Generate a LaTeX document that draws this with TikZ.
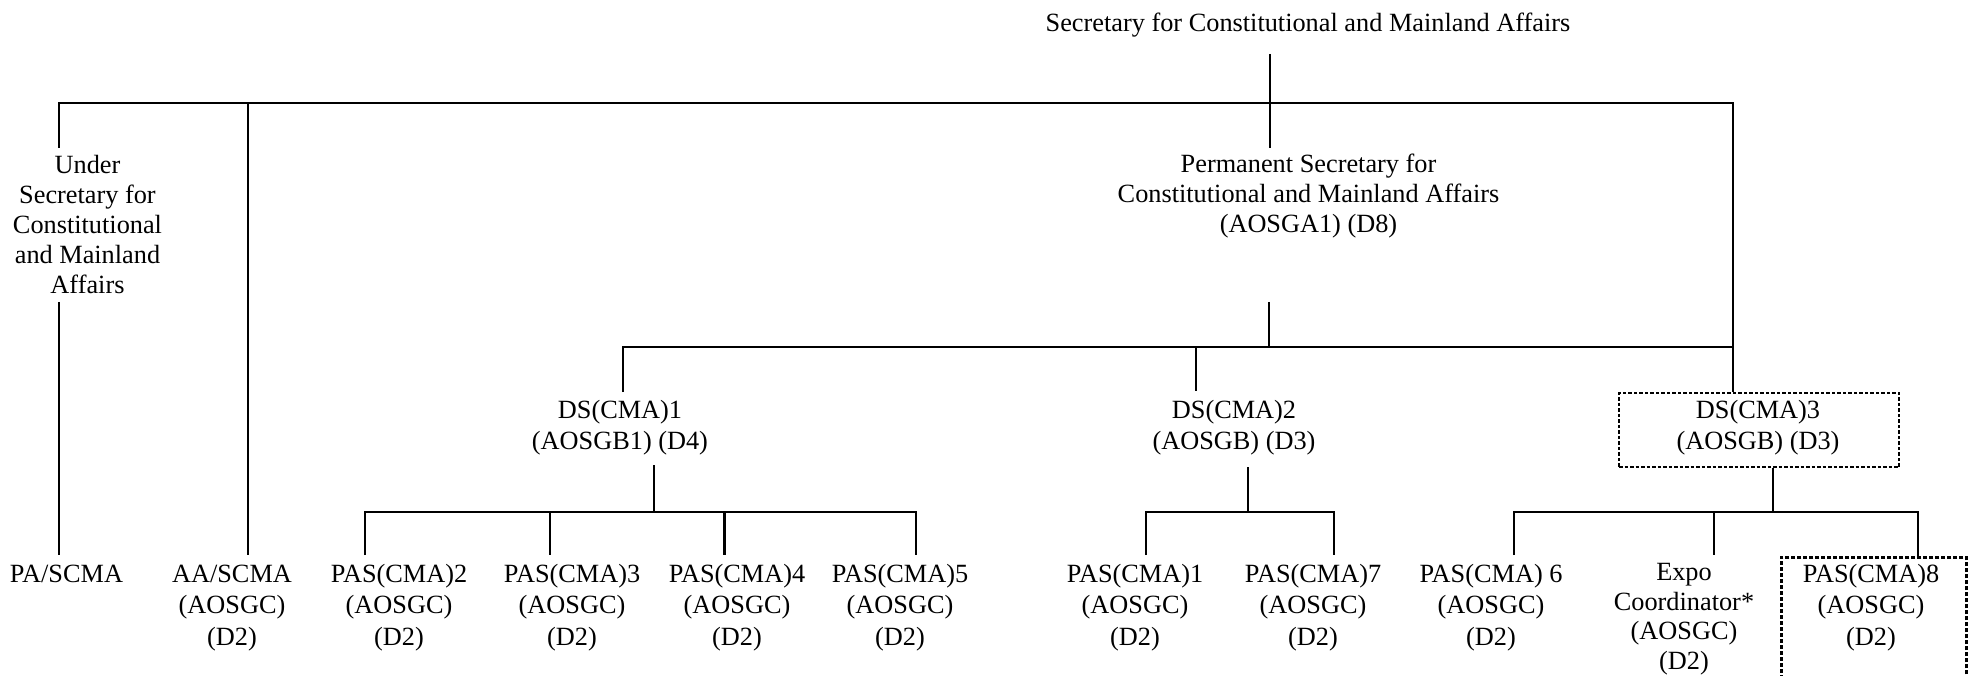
\documentclass[tikz,border=0pt]{standalone}
\usepackage{fontspec}
\setmainfont{Liberation Serif}
\begin{document}
\begin{tikzpicture}[x=1pt,y=-1pt,
  lbl/.style={align=center, inner sep=0pt, anchor=base, font=\fontsize{26.3}{31.5}\selectfont},
  lblt/.style={lbl, font=\fontsize{26.3}{30}\selectfont},
  lble/.style={lbl, font=\fontsize{26.3}{29.5}\selectfont},
  conn/.style={line width=2.2pt},
  dboxa/.style={draw, line width=2pt, dash pattern=on 3.5pt off 2pt, inner sep=0pt, anchor=north west},
  dboxb/.style={draw, line width=2.6pt, dash pattern=on 4pt off 2pt, inner sep=0pt, anchor=north west}]
\useasboundingbox[fill=white] (0,0) rectangle (1979,676);
\clip (0,0) rectangle (1979,676);
% text nodes (anchor base = baseline of the last line)
\node[lbl] (t) at (1308,32) {Secretary for Constitutional and Mainland Affairs};
\node[lblt] (us) at (87.5,294) {Under\\Secretary for\\Constitutional\\and Mainland\\Affairs};
\node[lblt] (ps) at (1308.5,233) {Permanent Secretary for\\Constitutional and Mainland Affairs\\(AOSGA1) (D8)};
\node[lbl] (ds1) at (620,449.5) {DS(CMA)1\\(AOSGB1) (D4)};
\node[lbl] (ds2) at (1234,449.5) {DS(CMA)2\\(AOSGB) (D3)};
\node[lbl] (ds3) at (1758,449.5) {DS(CMA)3\\(AOSGB) (D3)};
\node[dboxa, minimum width=280pt, minimum height=74pt] (ds3b) at (1618,392) {};
\node[lbl] (pa) at (66.5,582) {PA/SCMA};
\node[lbl] (aa) at (232,645) {AA/SCMA\\(AOSGC)\\(D2)};
\node[lbl] (p2) at (399,645) {PAS(CMA)2\\(AOSGC)\\(D2)};
\node[lbl] (p3) at (572,645) {PAS(CMA)3\\(AOSGC)\\(D2)};
\node[lbl] (p4) at (737,645) {PAS(CMA)4\\(AOSGC)\\(D2)};
\node[lbl] (p5) at (900,645) {PAS(CMA)5\\(AOSGC)\\(D2)};
\node[lbl] (p1) at (1135,645) {PAS(CMA)1\\(AOSGC)\\(D2)};
\node[lbl] (p7) at (1313,645) {PAS(CMA)7\\(AOSGC)\\(D2)};
\node[lbl] (p6) at (1491,645) {PAS(CMA) 6\\(AOSGC)\\(D2)};
\node[lble] (expo) at (1684,669) {Expo\\Coordinator*\\(AOSGC)\\(D2)};
\node[lbl] (p8) at (1871,645) {PAS(CMA)8\\(AOSGC)\\(D2)};
\node[dboxb, minimum width=185pt, minimum height=160pt] (p8b) at (1780,556) {};
% connector end points
\coordinate (tA) at (1270,54);
\coordinate (psA) at (1270,148);
\coordinate (usA) at (59,148);
\coordinate (usB) at (59,302);
\coordinate (paA) at (59,555);
\coordinate (aaA) at (248,555);
\coordinate (barL) at (59,103);
\coordinate (barA) at (248,103);
\coordinate (barR) at (1733,103);
\coordinate (psB) at (1269,302);
\coordinate (psC) at (1269,347);
\coordinate (mbarL) at (623,347);
\coordinate (mbarR) at (1733,347);
\coordinate (ds1A) at (623,392);
\coordinate (ds2T) at (1196,347);
\coordinate (ds2A) at (1196,391);
\coordinate (ds1B) at (654,465);
\coordinate (ds1C) at (654,512);
\coordinate (ds2B) at (1248,467);
\coordinate (ds2C) at (1248,512);
\coordinate (ds3C) at (1773,512);
% connectors
\draw[conn] (tA) -- (psA);
\draw[conn] (usA) -- (barL) -- (barR) -- (ds3b.north -| barR);
\draw[conn] (barA) -- (aaA);
\draw[conn] (usB) -- (paA);
\draw[conn] (psB) -- (psC);
\draw[conn] (ds1A) -- (mbarL) -- (mbarR);
\draw[conn] (ds2T) -- (ds2A);
% DS1 children
\draw[conn] (ds1B) -- (ds1C);
\draw[conn] (365,555) -- (365,512) -- (916,512) -- (916,555);
\draw[conn] (550,512) -- (550,555);
\draw[conn] (724.5,512) -- (724.5,555);
% DS2 children
\draw[conn] (ds2B) -- (ds2C);
\draw[conn] (1146,555) -- (1146,512) -- (1334,512) -- (1334,555);
% DS3 children
\draw[conn] (ds3b.south -| ds3C) -- (ds3C);
\draw[conn] (1514,555) -- (1514,512) -- (1918,512) -- (p8b.north -| 1918,0);
\draw[conn] (1714,512) -- (1714,555);
\end{tikzpicture}
\end{document}
